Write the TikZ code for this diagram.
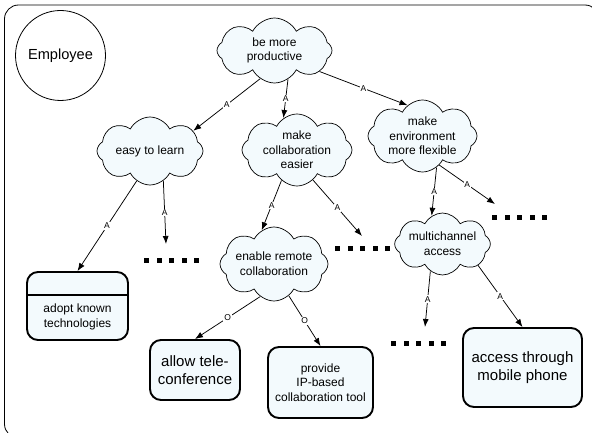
\documentclass[tikz,border=0pt]{standalone}
\usepackage{fontspec}
\setmainfont{Liberation Sans}
\usetikzlibrary{shapes.symbols,arrows.meta}

\definecolor{paleblue}{RGB}{243,250,253}
\newcommand\sqrow{\rule{5pt}{5pt}\hspace{7.5pt}\rule{5pt}{5pt}\hspace{7.5pt}\rule{5pt}{5pt}\hspace{7.5pt}\rule{5pt}{5pt}\hspace{7.5pt}\rule{5pt}{5pt}}

\tikzset{
  goal/.style={cloud, cloud puffs=8, cloud puff arc=125, cloud ignores aspect,
    draw=black, line width=0.7pt, fill=paleblue, inner sep=0pt, align=center,
    font=\fontsize{12}{14.6}\selectfont},
  task/.style={draw=black, line width=1.9pt, fill=paleblue, rounded corners=11pt,
    align=center, inner sep=0pt},
  dotrow/.style={inner sep=0pt, outer sep=0pt},
  link/.style={draw=black, line width=0.75pt, -{Latex[length=8pt,width=6pt]}},
  lbl/.style={fill=white, inner sep=0.8pt, font=\fontsize{8.5}{9}\selectfont}
}

\begin{document}
\begin{tikzpicture}[x=1pt,y=-1pt]
  \useasboundingbox (0,0) rectangle (592,433);
  \clip (0,0) rectangle (592,433);

  % boundary of the actor
  \draw[line width=0.8pt, rounded corners=14pt] (4.5,5) rectangle (599,438);
  \node (emp) [circle, draw=black, line width=0.8pt, minimum size=90pt, inner sep=0pt,
    font=\fontsize{14.6}{17}\selectfont] at (60.5,55.5) {Employee};

  % soft goals
  \node (prod) [goal, minimum width=115pt, minimum height=65pt] at (274.5,50.5) {be more\\productive};
  \node (easy) [goal, minimum width=106pt, minimum height=68pt] at (150,151) {easy to learn};
  \node (collab) [goal, minimum width=110pt, minimum height=72pt] at (297,150) {make\\collaboration\\easier};
  \node (env) [goal, minimum width=109pt, minimum height=64pt] at (422.5,136) {make\\environment\\more flexible};
  \node (remote) [goal, minimum width=108pt, minimum height=74pt] at (274,264) {enable remote\\collaboration};
  \node (multi) [goal, minimum width=89pt, minimum height=62pt] at (442.5,244) {multichannel\\access};

  % tasks
  \node (adopt) [task, minimum width=101pt, minimum height=68pt] at (77.5,306) {};
  \draw[line width=1.9pt] ([yshift=-24pt]adopt.north west) -- ([yshift=-24pt]adopt.north east);
  \node (adopttext) [align=center, font=\fontsize{12}{15}\selectfont] at (77.5,317) {adopt known\\technologies};
  \node (tele) [task, minimum width=90pt, minimum height=60pt,
    font=\fontsize{15}{17.8}\selectfont] at (195,370) {allow tele-\\conference};
  \node (provide) [task, minimum width=105pt, minimum height=71pt,
    font=\fontsize{12}{14.5}\selectfont] at (320.5,382.5) {provide\\IP-based\\collaboration tool};
  \node (mobile) [task, minimum width=119pt, minimum height=79pt,
    font=\fontsize{15}{17.8}\selectfont] at (522.5,367.5) {access through\\mobile phone};

  % omitted sub-trees
  \node (dots1) [dotrow] at (171.5,260) {\sqrow};
  \node (dots2) [dotrow] at (362.5,248) {\sqrow};
  \node (dots3) [dotrow] at (519.5,217) {\sqrow};
  \node (dots4) [dotrow] at (418.5,343) {\sqrow};
  \coordinate (e1) at (166,244);
  \coordinate (e2) at (362,236);
  \coordinate (e3) at (495,204);
  \coordinate (e4) at (425,327);

  % AND decompositions
  \draw[link] (prod.243) -- node[lbl]{A} (easy.25);
  \draw[link] (prod.295) -- node[lbl]{A} (collab.113);
  \draw[link] (prod.335) -- node[lbl]{A} (env.116);
  \draw[link] (easy.246) -- node[lbl]{A} (adopt.north);
  \draw[link] (easy.294) -- node[lbl]{A} (e1);
  \draw[link] (collab.243) -- node[lbl]{A} (remote.110);
  \draw[link] (collab.298) -- node[lbl]{A} (e2);
  \draw[link] (env.294) -- node[lbl]{A} (multi.111);
  \draw[link] (env.300) -- node[lbl]{A} (e3);
  \draw[link] (multi.246) -- node[lbl]{A} (e4);
  \draw[link] (multi.329) -- node[lbl]{A} (mobile.north);

  % OR decompositions
  \draw[link] (remote.247) -- node[lbl]{O} (tele.north);
  \draw[link] (remote.295) -- node[lbl]{O} (provide.north);
\end{tikzpicture}
\end{document}
